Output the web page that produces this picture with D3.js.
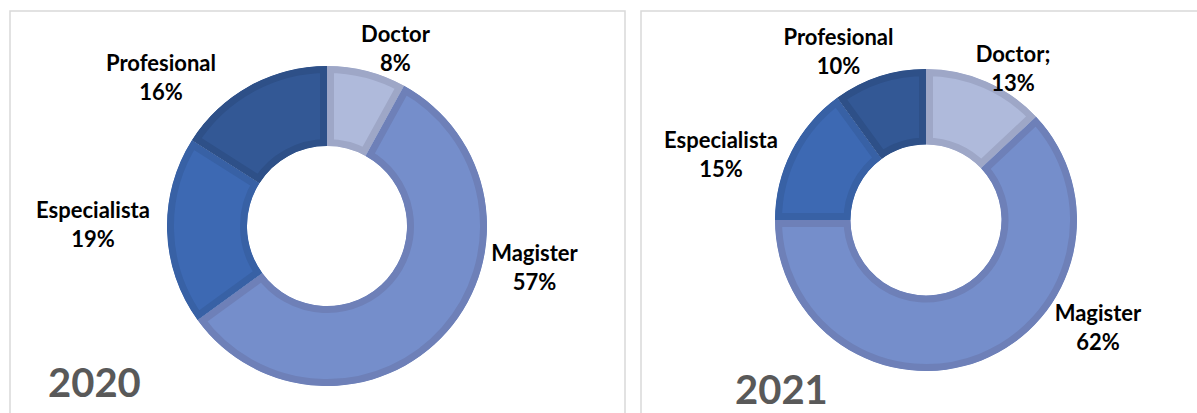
<!DOCTYPE html>
<html>
<head>
<meta charset="utf-8">
<script src="https://cdn.jsdelivr.net/npm/d3@7"></script>
<style>
  body { margin: 0; background: #fff; }
  svg { display: block; }
  .lbl { font-family: Lato, "Open Sans", sans-serif; font-weight: bold; font-size: 22px; fill: #000; }
  .year { font-family: Lato, "Open Sans", sans-serif; font-weight: bold; font-size: 40px; fill: #595959; }
</style>
</head>
<body>
<div id="chart"></div>
<script>
// data
const categories = ["Doctor", "Magister", "Especialista", "Profesional"];
const values2020 = [8, 57, 19, 16];
const values2021 = [13, 62, 15, 10];
const names2020 = ["Doctor", "Magister", "Especialista", "Profesional"];
const names2021 = ["Doctor;", "Magister", "Especialista", "Profesional"];
const years = ["2020", "2021"];

const fillColors = ["#afbadb", "#758ecb", "#3d69b3", "#335895"];
const strokeColors = ["#9ea7c7", "#6e80b8", "#3861a5", "#2e5088"];

var width = 1197, height = 413;

var svg = d3.select("#chart").append("svg")
  .attr("width", width)
  .attr("height", height);

// panels (layout)
var panels = [
  { x: 10, y: 11, w: 615, cx: 327, cy: 226, r: 160, values: values2020, names: names2020, year: years[0],
    yearPos: [48, 397],
    labelPos: [[395.5, 42], [534.5, 261], [93, 218], [161, 71]] },
  { x: 641, y: 11, w: 570, cx: 926, cy: 220, r: 151, values: values2021, names: names2021, year: years[1],
    yearPos: [735, 404],
    labelPos: [[1013, 62], [1098, 321], [721, 148], [838.5, 45]] }
];

var pie = d3.pie().sort(null).value(d => d);
var borderW = 7;

panels.forEach(function (p, pi) {
  svg.append("rect")
    .attr("x", p.x)
    .attr("y", p.y)
    .attr("width", p.w)
    .attr("height", 430)
    .attr("fill", "none")
    .attr("stroke", "#d9d9d9")
    .attr("stroke-width", 1.5);

  var arc = d3.arc().innerRadius(p.r * 0.5).outerRadius(p.r);
  var g = svg.append("g")
    .attr("transform", "translate(" + p.cx + "," + p.cy + ")");

  var arcs = pie(p.values);

  // clip paths so each slice border sits inside the slice
  var defs = svg.append("defs");
  arcs.forEach(function (a, i) {
    defs.append("clipPath")
      .attr("id", "clip" + pi + "_" + i)
      .append("path")
      .attr("d", arc(a));
  });

  g.selectAll("path.slice")
    .data(arcs)
    .enter()
    .append("path")
    .attr("class", "slice")
    .attr("d", arc)
    .attr("clip-path", (d, i) => "url(#clip" + pi + "_" + i + ")")
    .style("fill", (d, i) => fillColors[i])
    .style("stroke", (d, i) => strokeColors[i])
    .style("stroke-width", borderW * 2)
    .style("stroke-linejoin", "miter");

  // data labels
  arcs.forEach(function (a, i) {
    var t = svg.append("text")
      .attr("class", "lbl")
      .attr("text-anchor", "middle");
    t.append("tspan")
      .attr("x", p.labelPos[i][0])
      .attr("y", p.labelPos[i][1])
      .text(p.names[i]);
    t.append("tspan")
      .attr("x", p.labelPos[i][0])
      .attr("y", p.labelPos[i][1] + 29)
      .text(p.values[i] + "%");
  });

  svg.append("text")
    .attr("class", "year")
    .attr("x", p.yearPos[0])
    .attr("y", p.yearPos[1])
    .text(p.year);
});
</script>
</body>
</html>
